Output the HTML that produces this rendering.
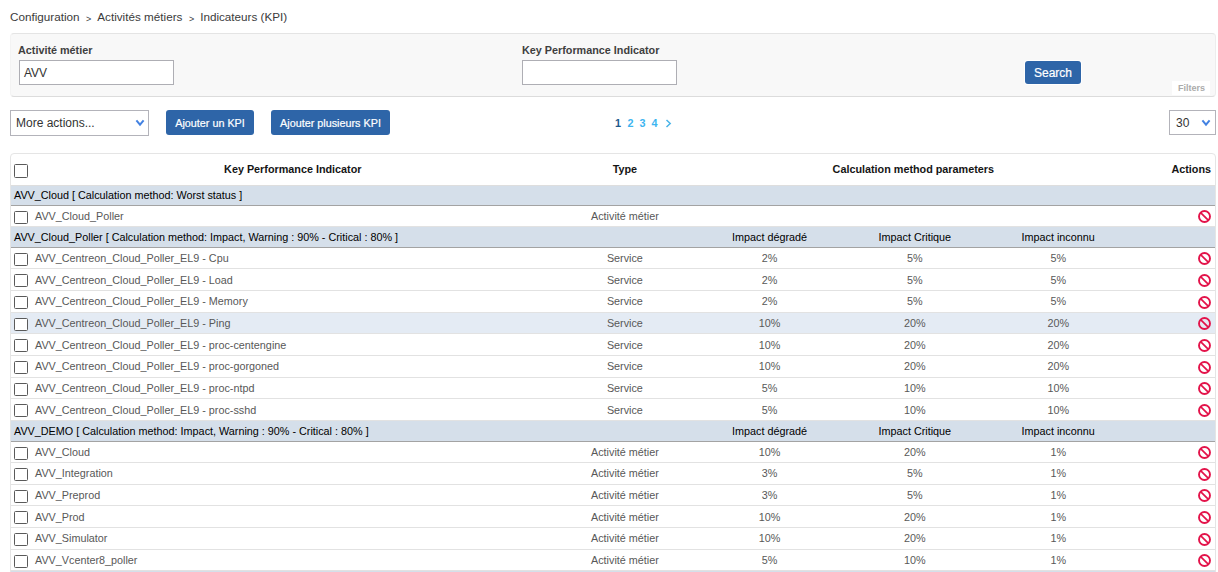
<!DOCTYPE html>
<html><head><meta charset="utf-8"><style>
html,body{margin:0;padding:0;background:#fff;}
body{width:1218px;height:572px;overflow:hidden;position:relative;font-family:"Liberation Sans",sans-serif;}
.a{position:absolute;white-space:nowrap;}
.bc{position:absolute;left:10px;top:9px;font-size:11.7px;color:#3b3b3b;white-space:nowrap;line-height:16px;}
.bc .sep{font-size:9px;margin:0 6px 0 6.5px;position:relative;top:1px;}
.panel{position:absolute;left:10px;top:33px;width:1204px;height:62px;background:#f8f8f8;border:1px solid #e4e4e4;border-left-color:#f3f3f3;border-right-color:#ededed;border-bottom-color:#dcdcdc;border-radius:4px;}
.lbl{position:absolute;font-size:10.8px;font-weight:bold;color:#3f3f3f;white-space:nowrap;line-height:14px;}
.inp{position:absolute;box-sizing:border-box;height:25px;width:155px;background:#fff;border:1px solid #aeaeb4;}
.inp span{position:absolute;left:4px;top:1px;line-height:23px;font-size:12px;color:#333;}
.btn{position:absolute;box-sizing:border-box;background:#2e65a8;border-radius:3px;color:#fff;-webkit-text-stroke:0.2px #fff;text-align:center;white-space:nowrap;}
.sel{position:absolute;box-sizing:border-box;height:25px;background:#fff;border:1px solid #b3b3ba;}
.sel span{position:absolute;left:5px;top:0;line-height:23px;font-size:12px;color:#333;}
.chev{position:absolute;}
.tbl{position:absolute;left:10px;top:153px;width:1204px;height:440px;border:1px solid #e5e5e5;border-radius:4px;background:#fff;}
.cb{position:absolute;left:14px;width:12px;height:11px;border:1px solid #5a5a5a;border-radius:1.5px;background:#fff;}
.th{position:absolute;font-size:10.8px;font-weight:bold;color:#151515;white-space:nowrap;}
.row{position:absolute;left:11px;width:1204px;}
.g{background:#d5dfea;}
.hv{background:#e4ebf4;}
.t{position:absolute;font-size:10.8px;color:#585858;white-space:nowrap;}
.tg{position:absolute;font-size:10.8px;color:#000;white-space:nowrap;}
.pg{position:absolute;font-size:10.8px;font-weight:bold;line-height:14px;}
</style></head><body>

<div class="bc">Configuration<span class="sep">&gt;</span>Activités métiers<span class="sep">&gt;</span>Indicateurs (KPI)</div>
<div class="panel"></div>
<div class="lbl" style="left:18px;top:43px">Activité métier</div>
<div class="inp" style="left:19px;top:60px"><span>AVV</span></div>
<div class="lbl" style="left:522px;top:43px">Key Performance Indicator</div>
<div class="inp" style="left:522px;top:60px"></div>
<div class="btn" style="left:1025px;top:61px;width:56px;height:23px;line-height:25px;font-size:12px;box-shadow:0 0 0 1px #fff">Search</div>
<div class="a" style="left:1172px;top:81px;width:38px;height:14px;background:#fff;"></div>
<div class="a" style="left:1178px;top:81px;font-size:9px;font-weight:bold;color:#ababab;line-height:14px">Filters</div>
<div class="sel" style="left:10px;top:110px;width:139px;height:26px"><span style="line-height:24px">More actions...</span></div>
<svg class="chev" width="10" height="8" viewBox="0 0 10 8" style="left:135px;top:119px"><polyline points="1.4,1.4 5,5.6 8.6,1.4" fill="none" stroke="#4382e2" stroke-width="2"/></svg>
<div class="btn" style="left:166px;top:110px;width:88px;height:25px;line-height:27px;font-size:10.8px">Ajouter un KPI</div>
<div class="btn" style="left:271px;top:110px;width:119px;height:25px;line-height:27px;font-size:10.8px">Ajouter plusieurs KPI</div>
<div class="pg" style="left:615px;top:116px;color:#1d5a8c">1</div>
<div class="pg" style="left:627.5px;top:116px;color:#3db5f0">2</div>
<div class="pg" style="left:639.5px;top:116px;color:#3db5f0">3</div>
<div class="pg" style="left:651.5px;top:116px;color:#3db5f0">4</div>
<svg class="chev" width="7" height="9" viewBox="0 0 7 9" style="left:665px;top:119px"><polyline points="1.5,1 5.2,4.5 1.5,8" fill="none" stroke="#4ab4e8" stroke-width="1.5"/></svg>
<div class="sel" style="left:1169px;top:110px;width:47px;height:25px"><span style="left:6px;top:1px">30</span></div>
<svg class="chev" width="10" height="8" viewBox="0 0 10 8" style="left:1201px;top:119px"><polyline points="1.4,1.4 5,5.6 8.6,1.4" fill="none" stroke="#4382e2" stroke-width="2"/></svg>
<div class="tbl"></div>
<div class="cb" style="top:164px;height:12px"></div>
<div class="row" style="top:154px;height:31px;border-bottom:1px solid #dedede"></div>
<div class="th" style="left:192.8px;top:154px;width:200px;height:31px;line-height:31px;text-align:center">Key Performance Indicator</div>
<div class="th" style="left:524.9px;top:154px;width:200px;height:31px;line-height:31px;text-align:center">Type</div>
<div class="th" style="left:813.3px;top:154px;width:200px;height:31px;line-height:31px;text-align:center">Calculation method parameters</div>
<div class="th" style="right:7px;top:154px;height:31px;line-height:31px">Actions</div>
<div class="row g" style="top:186px;height:19px;border-bottom:1px solid #a3a3a3"></div>
<div class="tg" style="left:14px;top:186px;line-height:19px">AVV_Cloud [ Calculation method: Worst status ]</div>
<div class="row" style="top:206px;height:20px;border-bottom:1px solid #e2e2e2"></div>
<div class="cb" style="top:211px"></div>
<div class="t" style="left:35px;top:206px;line-height:20px">AVV_Cloud_Poller</div>
<div class="t" style="left:524.9px;top:206px;width:200px;height:20px;line-height:20px;text-align:center">Activité métier</div>
<svg width="13" height="13" viewBox="0 0 13 13" style="position:absolute;left:1198px;top:210px"><circle cx="6.5" cy="6.5" r="5.5" fill="none" stroke="#e3134a" stroke-width="1.9"/><line x1="2.6" y1="2.6" x2="10.4" y2="10.4" stroke="#e3134a" stroke-width="1.7"/></svg>
<div class="row g" style="top:227px;height:20px;border-bottom:1px solid #a3a3a3"></div>
<div class="tg" style="left:14px;top:227px;line-height:20px">AVV_Cloud_Poller [ Calculation method: Impact, Warning : 90% - Critical : 80% ]</div>
<div class="tg" style="left:669.6px;top:227px;width:200px;height:20px;line-height:20px;text-align:center">Impact dégradé</div>
<div class="tg" style="left:814.8px;top:227px;width:200px;height:20px;line-height:20px;text-align:center">Impact Critique</div>
<div class="tg" style="left:958.2px;top:227px;width:200px;height:20px;line-height:20px;text-align:center">Impact inconnu</div>
<div class="row" style="top:248px;height:20px;border-bottom:1px solid #e2e2e2"></div>
<div class="cb" style="top:253px"></div>
<div class="t" style="left:35px;top:248px;line-height:20px">AVV_Centreon_Cloud_Poller_EL9 - Cpu</div>
<div class="t" style="left:524.9px;top:248px;width:200px;height:20px;line-height:20px;text-align:center">Service</div>
<div class="t" style="left:669.6px;top:248px;width:200px;height:20px;line-height:20px;text-align:center">2%</div>
<div class="t" style="left:814.8px;top:248px;width:200px;height:20px;line-height:20px;text-align:center">5%</div>
<div class="t" style="left:958.2px;top:248px;width:200px;height:20px;line-height:20px;text-align:center">5%</div>
<svg width="13" height="13" viewBox="0 0 13 13" style="position:absolute;left:1198px;top:252px"><circle cx="6.5" cy="6.5" r="5.5" fill="none" stroke="#e3134a" stroke-width="1.9"/><line x1="2.6" y1="2.6" x2="10.4" y2="10.4" stroke="#e3134a" stroke-width="1.7"/></svg>
<div class="row" style="top:269px;height:21px;border-bottom:1px solid #e2e2e2"></div>
<div class="cb" style="top:274px"></div>
<div class="t" style="left:35px;top:270px;line-height:21px">AVV_Centreon_Cloud_Poller_EL9 - Load</div>
<div class="t" style="left:524.9px;top:270px;width:200px;height:21px;line-height:21px;text-align:center">Service</div>
<div class="t" style="left:669.6px;top:270px;width:200px;height:21px;line-height:21px;text-align:center">2%</div>
<div class="t" style="left:814.8px;top:270px;width:200px;height:21px;line-height:21px;text-align:center">5%</div>
<div class="t" style="left:958.2px;top:270px;width:200px;height:21px;line-height:21px;text-align:center">5%</div>
<svg width="13" height="13" viewBox="0 0 13 13" style="position:absolute;left:1198px;top:274px"><circle cx="6.5" cy="6.5" r="5.5" fill="none" stroke="#e3134a" stroke-width="1.9"/><line x1="2.6" y1="2.6" x2="10.4" y2="10.4" stroke="#e3134a" stroke-width="1.7"/></svg>
<div class="row" style="top:291px;height:21px;border-bottom:1px solid #e2e2e2"></div>
<div class="cb" style="top:296px"></div>
<div class="t" style="left:35px;top:291px;line-height:21px">AVV_Centreon_Cloud_Poller_EL9 - Memory</div>
<div class="t" style="left:524.9px;top:291px;width:200px;height:21px;line-height:21px;text-align:center">Service</div>
<div class="t" style="left:669.6px;top:291px;width:200px;height:21px;line-height:21px;text-align:center">2%</div>
<div class="t" style="left:814.8px;top:291px;width:200px;height:21px;line-height:21px;text-align:center">5%</div>
<div class="t" style="left:958.2px;top:291px;width:200px;height:21px;line-height:21px;text-align:center">5%</div>
<svg width="13" height="13" viewBox="0 0 13 13" style="position:absolute;left:1198px;top:296px"><circle cx="6.5" cy="6.5" r="5.5" fill="none" stroke="#e3134a" stroke-width="1.9"/><line x1="2.6" y1="2.6" x2="10.4" y2="10.4" stroke="#e3134a" stroke-width="1.7"/></svg>
<div class="row hv" style="top:313px;height:20px;border-bottom:1px solid #e2e2e2"></div>
<div class="cb" style="top:318px"></div>
<div class="t" style="left:35px;top:313px;line-height:20px">AVV_Centreon_Cloud_Poller_EL9 - Ping</div>
<div class="t" style="left:524.9px;top:313px;width:200px;height:20px;line-height:20px;text-align:center">Service</div>
<div class="t" style="left:669.6px;top:313px;width:200px;height:20px;line-height:20px;text-align:center">10%</div>
<div class="t" style="left:814.8px;top:313px;width:200px;height:20px;line-height:20px;text-align:center">20%</div>
<div class="t" style="left:958.2px;top:313px;width:200px;height:20px;line-height:20px;text-align:center">20%</div>
<svg width="13" height="13" viewBox="0 0 13 13" style="position:absolute;left:1198px;top:317px"><circle cx="6.5" cy="6.5" r="5.5" fill="none" stroke="#e3134a" stroke-width="1.9"/><line x1="2.6" y1="2.6" x2="10.4" y2="10.4" stroke="#e3134a" stroke-width="1.7"/></svg>
<div class="row" style="top:334px;height:21px;border-bottom:1px solid #e2e2e2"></div>
<div class="cb" style="top:339px"></div>
<div class="t" style="left:35px;top:335px;line-height:21px">AVV_Centreon_Cloud_Poller_EL9 - proc-centengine</div>
<div class="t" style="left:524.9px;top:335px;width:200px;height:21px;line-height:21px;text-align:center">Service</div>
<div class="t" style="left:669.6px;top:335px;width:200px;height:21px;line-height:21px;text-align:center">10%</div>
<div class="t" style="left:814.8px;top:335px;width:200px;height:21px;line-height:21px;text-align:center">20%</div>
<div class="t" style="left:958.2px;top:335px;width:200px;height:21px;line-height:21px;text-align:center">20%</div>
<svg width="13" height="13" viewBox="0 0 13 13" style="position:absolute;left:1198px;top:339px"><circle cx="6.5" cy="6.5" r="5.5" fill="none" stroke="#e3134a" stroke-width="1.9"/><line x1="2.6" y1="2.6" x2="10.4" y2="10.4" stroke="#e3134a" stroke-width="1.7"/></svg>
<div class="row" style="top:356px;height:21px;border-bottom:1px solid #e2e2e2"></div>
<div class="cb" style="top:361px"></div>
<div class="t" style="left:35px;top:356px;line-height:21px">AVV_Centreon_Cloud_Poller_EL9 - proc-gorgoned</div>
<div class="t" style="left:524.9px;top:356px;width:200px;height:21px;line-height:21px;text-align:center">Service</div>
<div class="t" style="left:669.6px;top:356px;width:200px;height:21px;line-height:21px;text-align:center">10%</div>
<div class="t" style="left:814.8px;top:356px;width:200px;height:21px;line-height:21px;text-align:center">20%</div>
<div class="t" style="left:958.2px;top:356px;width:200px;height:21px;line-height:21px;text-align:center">20%</div>
<svg width="13" height="13" viewBox="0 0 13 13" style="position:absolute;left:1198px;top:361px"><circle cx="6.5" cy="6.5" r="5.5" fill="none" stroke="#e3134a" stroke-width="1.9"/><line x1="2.6" y1="2.6" x2="10.4" y2="10.4" stroke="#e3134a" stroke-width="1.7"/></svg>
<div class="row" style="top:378px;height:20px;border-bottom:1px solid #e2e2e2"></div>
<div class="cb" style="top:383px"></div>
<div class="t" style="left:35px;top:378px;line-height:20px">AVV_Centreon_Cloud_Poller_EL9 - proc-ntpd</div>
<div class="t" style="left:524.9px;top:378px;width:200px;height:20px;line-height:20px;text-align:center">Service</div>
<div class="t" style="left:669.6px;top:378px;width:200px;height:20px;line-height:20px;text-align:center">5%</div>
<div class="t" style="left:814.8px;top:378px;width:200px;height:20px;line-height:20px;text-align:center">10%</div>
<div class="t" style="left:958.2px;top:378px;width:200px;height:20px;line-height:20px;text-align:center">10%</div>
<svg width="13" height="13" viewBox="0 0 13 13" style="position:absolute;left:1198px;top:382px"><circle cx="6.5" cy="6.5" r="5.5" fill="none" stroke="#e3134a" stroke-width="1.9"/><line x1="2.6" y1="2.6" x2="10.4" y2="10.4" stroke="#e3134a" stroke-width="1.7"/></svg>
<div class="row" style="top:399px;height:21px;border-bottom:1px solid #e2e2e2"></div>
<div class="cb" style="top:404px"></div>
<div class="t" style="left:35px;top:400px;line-height:21px">AVV_Centreon_Cloud_Poller_EL9 - proc-sshd</div>
<div class="t" style="left:524.9px;top:400px;width:200px;height:21px;line-height:21px;text-align:center">Service</div>
<div class="t" style="left:669.6px;top:400px;width:200px;height:21px;line-height:21px;text-align:center">5%</div>
<div class="t" style="left:814.8px;top:400px;width:200px;height:21px;line-height:21px;text-align:center">10%</div>
<div class="t" style="left:958.2px;top:400px;width:200px;height:21px;line-height:21px;text-align:center">10%</div>
<svg width="13" height="13" viewBox="0 0 13 13" style="position:absolute;left:1198px;top:404px"><circle cx="6.5" cy="6.5" r="5.5" fill="none" stroke="#e3134a" stroke-width="1.9"/><line x1="2.6" y1="2.6" x2="10.4" y2="10.4" stroke="#e3134a" stroke-width="1.7"/></svg>
<div class="row g" style="top:421px;height:20px;border-bottom:1px solid #a3a3a3"></div>
<div class="tg" style="left:14px;top:421px;line-height:20px">AVV_DEMO [ Calculation method: Impact, Warning : 90% - Critical : 80% ]</div>
<div class="tg" style="left:669.6px;top:421px;width:200px;height:20px;line-height:20px;text-align:center">Impact dégradé</div>
<div class="tg" style="left:814.8px;top:421px;width:200px;height:20px;line-height:20px;text-align:center">Impact Critique</div>
<div class="tg" style="left:958.2px;top:421px;width:200px;height:20px;line-height:20px;text-align:center">Impact inconnu</div>
<div class="row" style="top:442px;height:20px;border-bottom:1px solid #e2e2e2"></div>
<div class="cb" style="top:447px"></div>
<div class="t" style="left:35px;top:442px;line-height:20px">AVV_Cloud</div>
<div class="t" style="left:524.9px;top:442px;width:200px;height:20px;line-height:20px;text-align:center">Activité métier</div>
<div class="t" style="left:669.6px;top:442px;width:200px;height:20px;line-height:20px;text-align:center">10%</div>
<div class="t" style="left:814.8px;top:442px;width:200px;height:20px;line-height:20px;text-align:center">20%</div>
<div class="t" style="left:958.2px;top:442px;width:200px;height:20px;line-height:20px;text-align:center">1%</div>
<svg width="13" height="13" viewBox="0 0 13 13" style="position:absolute;left:1198px;top:446px"><circle cx="6.5" cy="6.5" r="5.5" fill="none" stroke="#e3134a" stroke-width="1.9"/><line x1="2.6" y1="2.6" x2="10.4" y2="10.4" stroke="#e3134a" stroke-width="1.7"/></svg>
<div class="row" style="top:463px;height:21px;border-bottom:1px solid #e2e2e2"></div>
<div class="cb" style="top:468px"></div>
<div class="t" style="left:35px;top:463px;line-height:21px">AVV_Integration</div>
<div class="t" style="left:524.9px;top:463px;width:200px;height:21px;line-height:21px;text-align:center">Activité métier</div>
<div class="t" style="left:669.6px;top:463px;width:200px;height:21px;line-height:21px;text-align:center">3%</div>
<div class="t" style="left:814.8px;top:463px;width:200px;height:21px;line-height:21px;text-align:center">5%</div>
<div class="t" style="left:958.2px;top:463px;width:200px;height:21px;line-height:21px;text-align:center">1%</div>
<svg width="13" height="13" viewBox="0 0 13 13" style="position:absolute;left:1198px;top:468px"><circle cx="6.5" cy="6.5" r="5.5" fill="none" stroke="#e3134a" stroke-width="1.9"/><line x1="2.6" y1="2.6" x2="10.4" y2="10.4" stroke="#e3134a" stroke-width="1.7"/></svg>
<div class="row" style="top:485px;height:20px;border-bottom:1px solid #e2e2e2"></div>
<div class="cb" style="top:490px"></div>
<div class="t" style="left:35px;top:485px;line-height:20px">AVV_Preprod</div>
<div class="t" style="left:524.9px;top:485px;width:200px;height:20px;line-height:20px;text-align:center">Activité métier</div>
<div class="t" style="left:669.6px;top:485px;width:200px;height:20px;line-height:20px;text-align:center">3%</div>
<div class="t" style="left:814.8px;top:485px;width:200px;height:20px;line-height:20px;text-align:center">5%</div>
<div class="t" style="left:958.2px;top:485px;width:200px;height:20px;line-height:20px;text-align:center">1%</div>
<svg width="13" height="13" viewBox="0 0 13 13" style="position:absolute;left:1198px;top:489px"><circle cx="6.5" cy="6.5" r="5.5" fill="none" stroke="#e3134a" stroke-width="1.9"/><line x1="2.6" y1="2.6" x2="10.4" y2="10.4" stroke="#e3134a" stroke-width="1.7"/></svg>
<div class="row" style="top:506px;height:21px;border-bottom:1px solid #e2e2e2"></div>
<div class="cb" style="top:511px"></div>
<div class="t" style="left:35px;top:507px;line-height:21px">AVV_Prod</div>
<div class="t" style="left:524.9px;top:507px;width:200px;height:21px;line-height:21px;text-align:center">Activité métier</div>
<div class="t" style="left:669.6px;top:507px;width:200px;height:21px;line-height:21px;text-align:center">10%</div>
<div class="t" style="left:814.8px;top:507px;width:200px;height:21px;line-height:21px;text-align:center">20%</div>
<div class="t" style="left:958.2px;top:507px;width:200px;height:21px;line-height:21px;text-align:center">1%</div>
<svg width="13" height="13" viewBox="0 0 13 13" style="position:absolute;left:1198px;top:511px"><circle cx="6.5" cy="6.5" r="5.5" fill="none" stroke="#e3134a" stroke-width="1.9"/><line x1="2.6" y1="2.6" x2="10.4" y2="10.4" stroke="#e3134a" stroke-width="1.7"/></svg>
<div class="row" style="top:528px;height:21px;border-bottom:1px solid #e2e2e2"></div>
<div class="cb" style="top:533px"></div>
<div class="t" style="left:35px;top:528px;line-height:21px">AVV_Simulator</div>
<div class="t" style="left:524.9px;top:528px;width:200px;height:21px;line-height:21px;text-align:center">Activité métier</div>
<div class="t" style="left:669.6px;top:528px;width:200px;height:21px;line-height:21px;text-align:center">10%</div>
<div class="t" style="left:814.8px;top:528px;width:200px;height:21px;line-height:21px;text-align:center">20%</div>
<div class="t" style="left:958.2px;top:528px;width:200px;height:21px;line-height:21px;text-align:center">1%</div>
<svg width="13" height="13" viewBox="0 0 13 13" style="position:absolute;left:1198px;top:533px"><circle cx="6.5" cy="6.5" r="5.5" fill="none" stroke="#e3134a" stroke-width="1.9"/><line x1="2.6" y1="2.6" x2="10.4" y2="10.4" stroke="#e3134a" stroke-width="1.7"/></svg>
<div class="row" style="top:550px;height:20px;border-bottom:1px solid #e2e2e2"></div>
<div class="cb" style="top:555px"></div>
<div class="t" style="left:35px;top:550px;line-height:20px">AVV_Vcenter8_poller</div>
<div class="t" style="left:524.9px;top:550px;width:200px;height:20px;line-height:20px;text-align:center">Activité métier</div>
<div class="t" style="left:669.6px;top:550px;width:200px;height:20px;line-height:20px;text-align:center">5%</div>
<div class="t" style="left:814.8px;top:550px;width:200px;height:20px;line-height:20px;text-align:center">10%</div>
<div class="t" style="left:958.2px;top:550px;width:200px;height:20px;line-height:20px;text-align:center">1%</div>
<svg width="13" height="13" viewBox="0 0 13 13" style="position:absolute;left:1198px;top:554px"><circle cx="6.5" cy="6.5" r="5.5" fill="none" stroke="#e3134a" stroke-width="1.9"/><line x1="2.6" y1="2.6" x2="10.4" y2="10.4" stroke="#e3134a" stroke-width="1.7"/></svg>
<div class="row g" style="top:571px;height:10px"></div>
</body></html>
